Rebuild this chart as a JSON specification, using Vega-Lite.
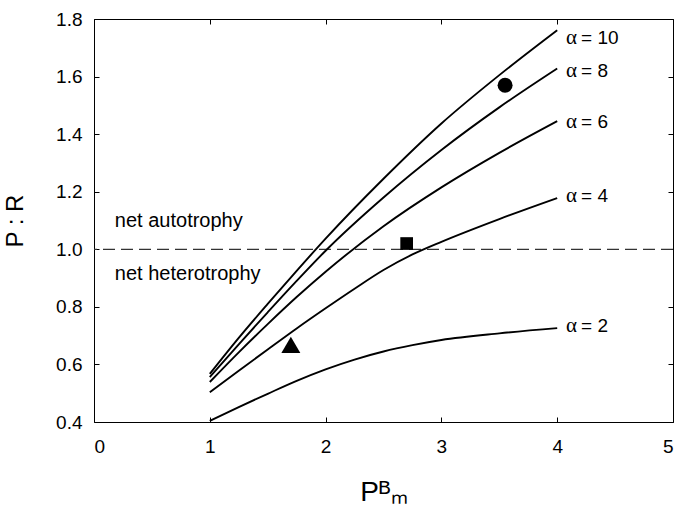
{
  "$schema": "https://vega.github.io/schema/vega-lite/v6.json",
  "width": 579,
  "height": 403,
  "autosize": {"type": "none"},
  "padding": {"left": 94, "top": 19, "right": 8, "bottom": 84},
  "background": "white",
  "config": {
    "view": {"stroke": "black", "strokeWidth": 1},
    "font": "Liberation Sans",
    "axis": {
      "grid": false,
      "domain": false,
      "tickColor": "black",
      "tickSize": -5,
      "tickWidth": 1,
      "labelColor": "black",
      "labelFont": "Liberation Sans",
      "labelFontSize": 19,
      "titleColor": "black",
      "titleFont": "Liberation Sans",
      "titleFontWeight": "normal"
    }
  },
  "datasets": {
    "curves": [
      {"alpha": "10", "pbm": 1, "pr": 0.567},
      {"alpha": "10", "pbm": 1.25, "pr": 0.692},
      {"alpha": "10", "pbm": 1.5, "pr": 0.81},
      {"alpha": "10", "pbm": 1.75, "pr": 0.925},
      {"alpha": "10", "pbm": 2, "pr": 1.037},
      {"alpha": "10", "pbm": 2.5, "pr": 1.245},
      {"alpha": "10", "pbm": 3, "pr": 1.437},
      {"alpha": "10", "pbm": 3.5, "pr": 1.605},
      {"alpha": "10", "pbm": 4, "pr": 1.761},
      {"alpha": "8", "pbm": 1, "pr": 0.556},
      {"alpha": "8", "pbm": 1.25, "pr": 0.67},
      {"alpha": "8", "pbm": 1.5, "pr": 0.781},
      {"alpha": "8", "pbm": 1.75, "pr": 0.89},
      {"alpha": "8", "pbm": 2, "pr": 0.995},
      {"alpha": "8", "pbm": 2.5, "pr": 1.18},
      {"alpha": "8", "pbm": 3, "pr": 1.345},
      {"alpha": "8", "pbm": 3.5, "pr": 1.493},
      {"alpha": "8", "pbm": 4, "pr": 1.628},
      {"alpha": "6", "pbm": 1, "pr": 0.539},
      {"alpha": "6", "pbm": 1.25, "pr": 0.642},
      {"alpha": "6", "pbm": 1.5, "pr": 0.74},
      {"alpha": "6", "pbm": 1.75, "pr": 0.834},
      {"alpha": "6", "pbm": 2, "pr": 0.922},
      {"alpha": "6", "pbm": 2.5, "pr": 1.08},
      {"alpha": "6", "pbm": 3, "pr": 1.215},
      {"alpha": "6", "pbm": 3.5, "pr": 1.335},
      {"alpha": "6", "pbm": 4, "pr": 1.445},
      {"alpha": "4", "pbm": 1, "pr": 0.503},
      {"alpha": "4", "pbm": 1.25, "pr": 0.578},
      {"alpha": "4", "pbm": 1.5, "pr": 0.652},
      {"alpha": "4", "pbm": 1.75, "pr": 0.725},
      {"alpha": "4", "pbm": 2, "pr": 0.795},
      {"alpha": "4", "pbm": 2.25, "pr": 0.863},
      {"alpha": "4", "pbm": 2.5, "pr": 0.928},
      {"alpha": "4", "pbm": 2.75, "pr": 0.982},
      {"alpha": "4", "pbm": 3, "pr": 1.026},
      {"alpha": "4", "pbm": 3.5, "pr": 1.105},
      {"alpha": "4", "pbm": 4, "pr": 1.178},
      {"alpha": "2", "pbm": 1, "pr": 0.404},
      {"alpha": "2", "pbm": 1.25, "pr": 0.452},
      {"alpha": "2", "pbm": 1.5, "pr": 0.498},
      {"alpha": "2", "pbm": 1.75, "pr": 0.543},
      {"alpha": "2", "pbm": 2, "pr": 0.583},
      {"alpha": "2", "pbm": 2.25, "pr": 0.617},
      {"alpha": "2", "pbm": 2.5, "pr": 0.645},
      {"alpha": "2", "pbm": 2.75, "pr": 0.667},
      {"alpha": "2", "pbm": 3, "pr": 0.685},
      {"alpha": "2", "pbm": 3.5, "pr": 0.708},
      {"alpha": "2", "pbm": 4, "pr": 0.726}
    ],
    "points": [
      {"marker": "circle", "pbm": 3.55, "pr": 1.57},
      {"marker": "square", "pbm": 2.7, "pr": 1.02},
      {"marker": "triangle", "pbm": 1.7, "pr": 0.668}
    ],
    "labels": [
      {"alpha": "10", "label": "= 10", "pbm": 4.076, "pr": 1.735},
      {"alpha": "8", "label": "= 8", "pbm": 4.076, "pr": 1.618},
      {"alpha": "6", "label": "= 6", "pbm": 4.076, "pr": 1.443},
      {"alpha": "4", "label": "= 4", "pbm": 4.076, "pr": 1.184},
      {"alpha": "2", "label": "= 2", "pbm": 4.076, "pr": 0.735}
    ],
    "notes": [
      {"note": "net autotrophy", "pbm": 0.18, "pr": 1.078},
      {"note": "net heterotrophy", "pbm": 0.18, "pr": 0.893}
    ],
    "reference": [{"pr": 1.0}]
  },
  "resolve": {"axis": {"x": "independent", "y": "independent"}},
  "layer": [
    {
      "data": {"name": "reference"},
      "mark": {"type": "rule", "color": "#333333", "strokeWidth": 1.2, "strokeDash": [12, 6]},
      "encoding": {
        "y": {"field": "pr", "type": "quantitative", "scale": {"domain": [0.4, 1.8], "nice": false, "zero": false}, "axis": null}
      }
    },
    {
      "data": {"name": "curves"},
      "mark": {"type": "line", "color": "black", "strokeWidth": 1.9, "interpolate": "monotone"},
      "encoding": {
        "x": {
          "field": "pbm", "type": "quantitative",
          "scale": {"domain": [0, 5], "nice": false, "zero": false},
          "axis": {
            "orient": "bottom", "values": [0, 1, 2, 3, 4, 5], "format": "d",
            "labelPadding": 20, "title": "Pᴮₘ", "titleFontSize": 28,
            "titleBaseline": "alphabetic", "titleY": 78
          }
        },
        "y": {
          "field": "pr", "type": "quantitative",
          "scale": {"domain": [0.4, 1.8], "nice": false, "zero": false},
          "axis": {
            "orient": "left", "values": [0.4, 0.6, 0.8, 1.0, 1.2, 1.4, 1.6, 1.8], "format": ".1f",
            "labelPadding": 17, "title": "P : R", "titleFontSize": 24,
            "titleBaseline": "alphabetic", "titleX": -72
          }
        },
        "detail": {"field": "alpha", "type": "nominal"}
      }
    },
    {
      "data": {"name": "points"},
      "transform": [{"filter": {"field": "marker", "equal": "circle"}}],
      "mark": {"type": "point", "shape": "circle", "filled": true, "color": "black", "opacity": 1, "size": 225},
      "encoding": {
        "x": {
          "field": "pbm", "type": "quantitative",
          "scale": {"domain": [0, 5], "nice": false, "zero": false},
          "axis": {"orient": "top", "values": [0, 1, 2, 3, 4, 5], "labels": false, "title": null}
        },
        "y": {
          "field": "pr", "type": "quantitative",
          "scale": {"domain": [0.4, 1.8], "nice": false, "zero": false},
          "axis": {"orient": "right", "values": [0.4, 0.6, 0.8, 1.0, 1.2, 1.4, 1.6, 1.8], "labels": false, "title": null}
        }
      }
    },
    {
      "data": {"name": "points"},
      "transform": [{"filter": {"field": "marker", "equal": "square"}}],
      "mark": {"type": "point", "shape": "square", "filled": true, "color": "black", "opacity": 1, "size": 161},
      "encoding": {
        "x": {"field": "pbm", "type": "quantitative", "scale": {"domain": [0, 5], "nice": false, "zero": false}, "axis": null},
        "y": {"field": "pr", "type": "quantitative", "scale": {"domain": [0.4, 1.8], "nice": false, "zero": false}, "axis": null}
      }
    },
    {
      "data": {"name": "points"},
      "transform": [{"filter": {"field": "marker", "equal": "triangle"}}],
      "mark": {"type": "point", "shape": "triangle-up", "filled": true, "color": "black", "opacity": 1, "size": 360},
      "encoding": {
        "x": {"field": "pbm", "type": "quantitative", "scale": {"domain": [0, 5], "nice": false, "zero": false}, "axis": null},
        "y": {"field": "pr", "type": "quantitative", "scale": {"domain": [0.4, 1.8], "nice": false, "zero": false}, "axis": null}
      }
    },
    {
      "data": {"name": "labels"},
      "mark": {"type": "text", "text": "α", "font": "Liberation Serif", "fontSize": 21, "align": "left", "baseline": "middle", "color": "black"},
      "encoding": {
        "x": {"field": "pbm", "type": "quantitative", "scale": {"domain": [0, 5], "nice": false, "zero": false}, "axis": null},
        "y": {"field": "pr", "type": "quantitative", "scale": {"domain": [0.4, 1.8], "nice": false, "zero": false}, "axis": null}
      }
    },
    {
      "data": {"name": "labels"},
      "mark": {"type": "text", "font": "Liberation Sans", "fontSize": 19, "align": "left", "baseline": "middle", "dx": 15, "color": "black"},
      "encoding": {
        "x": {"field": "pbm", "type": "quantitative", "scale": {"domain": [0, 5], "nice": false, "zero": false}, "axis": null},
        "y": {"field": "pr", "type": "quantitative", "scale": {"domain": [0.4, 1.8], "nice": false, "zero": false}, "axis": null},
        "text": {"field": "label", "type": "nominal"}
      }
    },
    {
      "data": {"name": "notes"},
      "mark": {"type": "text", "font": "Liberation Sans", "fontSize": 20, "align": "left", "baseline": "alphabetic", "color": "black"},
      "encoding": {
        "x": {"field": "pbm", "type": "quantitative", "scale": {"domain": [0, 5], "nice": false, "zero": false}, "axis": null},
        "y": {"field": "pr", "type": "quantitative", "scale": {"domain": [0.4, 1.8], "nice": false, "zero": false}, "axis": null},
        "text": {"field": "note", "type": "nominal"}
      }
    }
  ]
}
